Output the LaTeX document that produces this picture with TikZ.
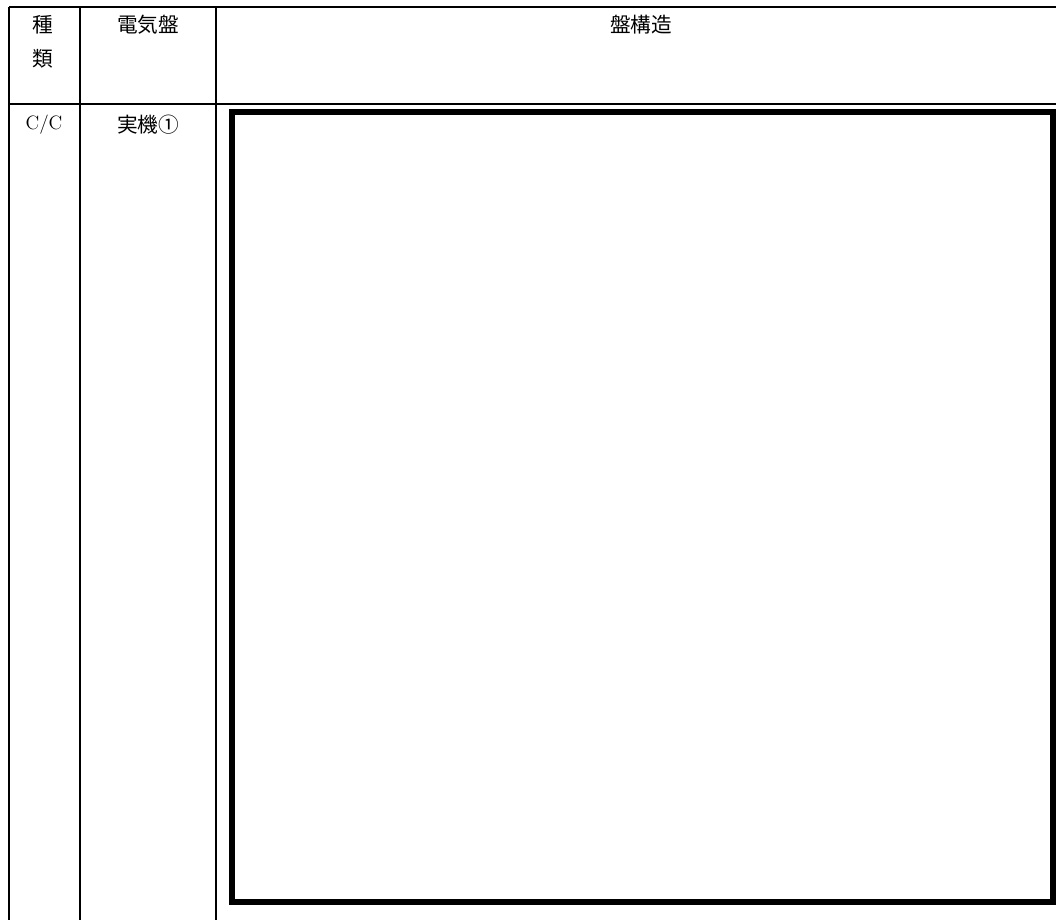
\documentclass[tikz,border=0pt]{standalone}
\usepackage{fontspec}
\newfontfamily\jpfont{Noto Sans CJK JP}

\begin{document}
\begin{tikzpicture}[x=0.75pt,y=-0.75pt]
        \tikzstyle{every node}+=[inner sep=0pt]
        \tikzset{rule/.style={black, line width=1.3pt},
                 cell/.style={font=\jpfont\fontsize{15.5}{18}\selectfont},
                 panel/.style={black, line width=4.6pt}}
        \useasboundingbox (0,0) rectangle (1056,920);
        % table rules
        \draw [rule] (9,7) -- (1056,7);
        \draw [rule] (9,104) -- (1056,104);
        \draw [rule] (9,7) -- (9,920);
        \draw [rule] (80,7) -- (80,920);
        \draw [rule] (216,7) -- (216,920);
        % header
        \node [cell] (kind1) at (43,25) {種};
        \node [cell] (kind2) at (43,59) {類};
        \node [cell] (board) at (148,25) {電気盤};
        \node [cell] (struct) at (641,25) {盤構造};
        % row
        \node [font=\fontsize{14.5}{17}\selectfont] (cc) at (44,125) {C/C};
        \node [cell] (real) at (148,125) {実機①};
        \draw [panel] (232,112) rectangle (1053.5,902);
      \end{tikzpicture}
\end{document}
